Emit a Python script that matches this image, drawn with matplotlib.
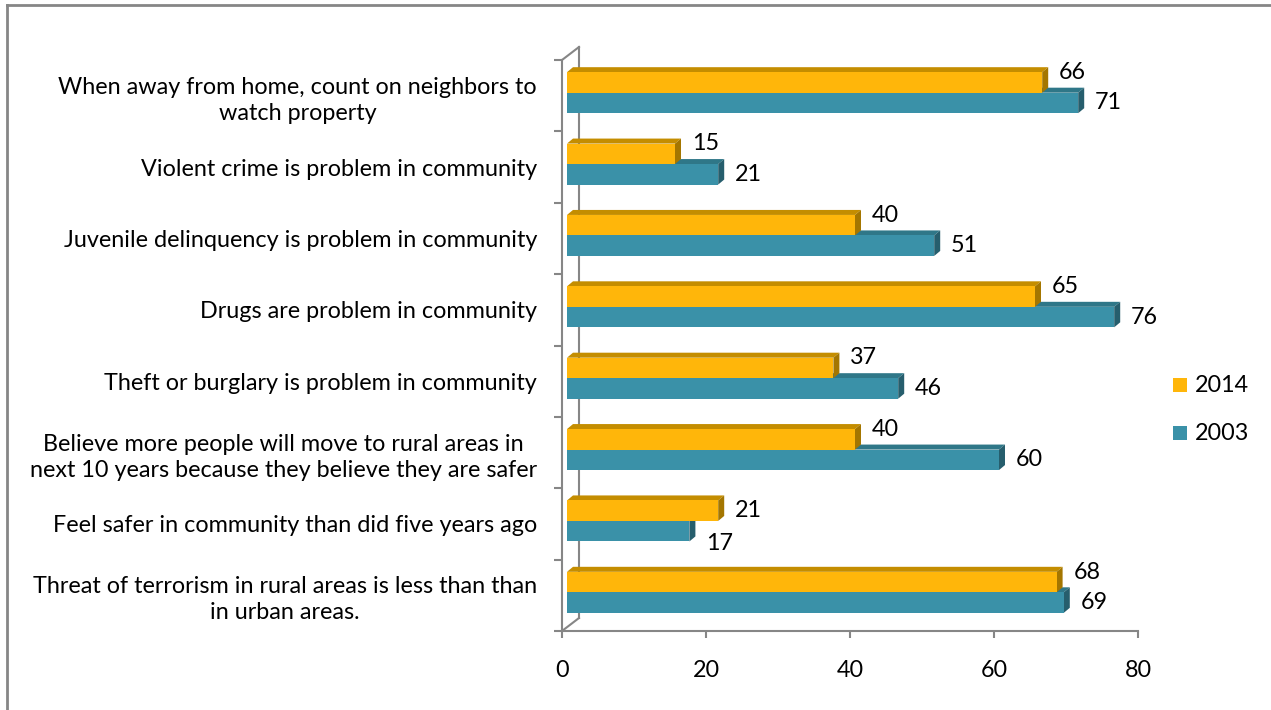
import matplotlib.pyplot as plt
from matplotlib.patches import Polygon, Rectangle
from matplotlib.lines import Line2D

# data (top to bottom as in the chart)
categories = [
    "When away from home, count on neighbors to\nwatch property",
    "Violent crime is problem in community",
    "Juvenile delinquency is problem in community",
    "Drugs are problem in community",
    "Theft or burglary is problem in community",
    "Believe more people will move to rural areas in\nnext 10 years because they believe they are safer",
    "Feel safer in community than did five years ago",
    "Threat of terrorism in rural areas is less than than\nin urban areas.",
]
series_names = ["2014", "2003"]
values_2014 = [66, 15, 40, 65, 37, 40, 21, 68]
values_2003 = [71, 21, 51, 76, 46, 60, 17, 69]
x_ticks = [0, 20, 40, 60, 80]

W, H = 1271, 710
FONT = "Lato"
FS = 16.8
FSN = 16.8
GRAY = "#868686"
YEL = ["#FFB60A", "#C48D00", "#A47600"]   # front, top, side
TEAL = ["#3A91A8", "#2F7788", "#265E6D"]

fig = plt.figure(figsize=(W / 100, H / 100), dpi=100)
plt.rcParams["font.family"] = [FONT, "DejaVu Sans"]

# axes placed so the front frame sits where the reference one does
left, right, top, bottom = 562, 1138, 60, 631
ax = fig.add_axes([left / W, 1 - bottom / H, (right - left) / W, (bottom - top) / H])
n = len(categories)
ax.set_xlim(0, 80)
ax.set_ylim(0, n)

px = 80 / (right - left)
py = n / (bottom - top)

# frame: back wall and connecting edges
wx, wy = 17 * px, 13 * py
for xs, ys in [([0, wx], [0, wy]), ([0, wx], [n, n + wy]), ([wx, wx], [wy, n + wy])]:
    ax.add_line(Line2D(xs, ys, color=GRAY, lw=1.5, clip_on=False, zorder=1))

for s in ["top", "right"]:
    ax.spines[s].set_visible(False)
for s in ["left", "bottom"]:
    ax.spines[s].set_color(GRAY)
    ax.spines[s].set_linewidth(1.5)

ax.set_xticks(x_ticks)
ax.set_xticklabels([str(t) for t in x_ticks], fontsize=FSN)
ax.tick_params(axis="x", direction="out", length=5, width=1.5, color=GRAY, pad=16)
ax.set_yticks(range(n + 1))
ax.set_yticklabels([""] * (n + 1))
ax.tick_params(axis="y", which="major", direction="out", length=6, width=1.5, color=GRAY)
ax.set_yticks([i + 0.5 for i in range(n)], minor=True)
ax.set_yticklabels(categories[::-1], minor=True, fontsize=FS, multialignment="center",
                   linespacing=1.3)
ax.tick_params(axis="y", which="minor", length=0, pad=18)
ax.set_facecolor("none")

fx, fy = 5 * px, 3 * py
bh = 20.5 * py
dx, dy = 6 * px, 5 * py


def bar3d(x0, y0, w, h, cols, z):
    x1, y1 = x0 + w, y0 + h
    ax.add_patch(Polygon([(x0, y1), (x1, y1), (x1 + dx, y1 + dy), (x0 + dx, y1 + dy)],
                         closed=True, fc=cols[1], ec="none", zorder=z, clip_on=False))
    ax.add_patch(Polygon([(x1, y0), (x1 + dx, y0 + dy), (x1 + dx, y1 + dy), (x1, y1)],
                         closed=True, fc=cols[2], ec="none", zorder=z, clip_on=False))
    ax.add_patch(Rectangle((x0, y0), w, h, fc=cols[0], ec="none", zorder=z + 0.1, clip_on=False))


for k in range(n):
    c = n - 1 - k + 0.5
    v1, v2 = values_2014[k], values_2003[k]
    bar3d(fx, c + fy - bh, v2, bh, TEAL, 3)
    bar3d(fx, c + fy, v1, bh, YEL, 4)
    ly1 = c + fy + bh / 2
    ly2 = c + fy - bh / 2
    if v1 < v2:
        ly1 += 10 * py
    else:
        ly2 -= 12 * py
    ax.text(fx + v1 + 17 * px, ly1, str(v1), fontsize=FSN, va="center", ha="left", zorder=6)
    ax.text(fx + v2 + 17 * px, ly2, str(v2), fontsize=FSN, va="center", ha="left", zorder=6)

# legend
for name, col, yc in zip(series_names, [YEL[0], TEAL[0]], [385, 433]):
    fig.add_artist(Rectangle((1173 / W, 1 - (yc + 7) / H), 14 / W, 14 / H,
                             transform=fig.transFigure, fc=col, ec="none"))
    fig.text(1195 / W, 1 - yc / H, name, fontsize=FSN, va="center", ha="left")

# outer chart border (only left and top visible in the crop)
fig.add_artist(Line2D([7 / W, 7 / W], [0, 1 - 5 / H], transform=fig.transFigure, color=GRAY, lw=2))
fig.add_artist(Line2D([7 / W, 1], [1 - 5 / H, 1 - 5 / H], transform=fig.transFigure, color=GRAY, lw=2))

fig.savefig("out.png", dpi=100)
